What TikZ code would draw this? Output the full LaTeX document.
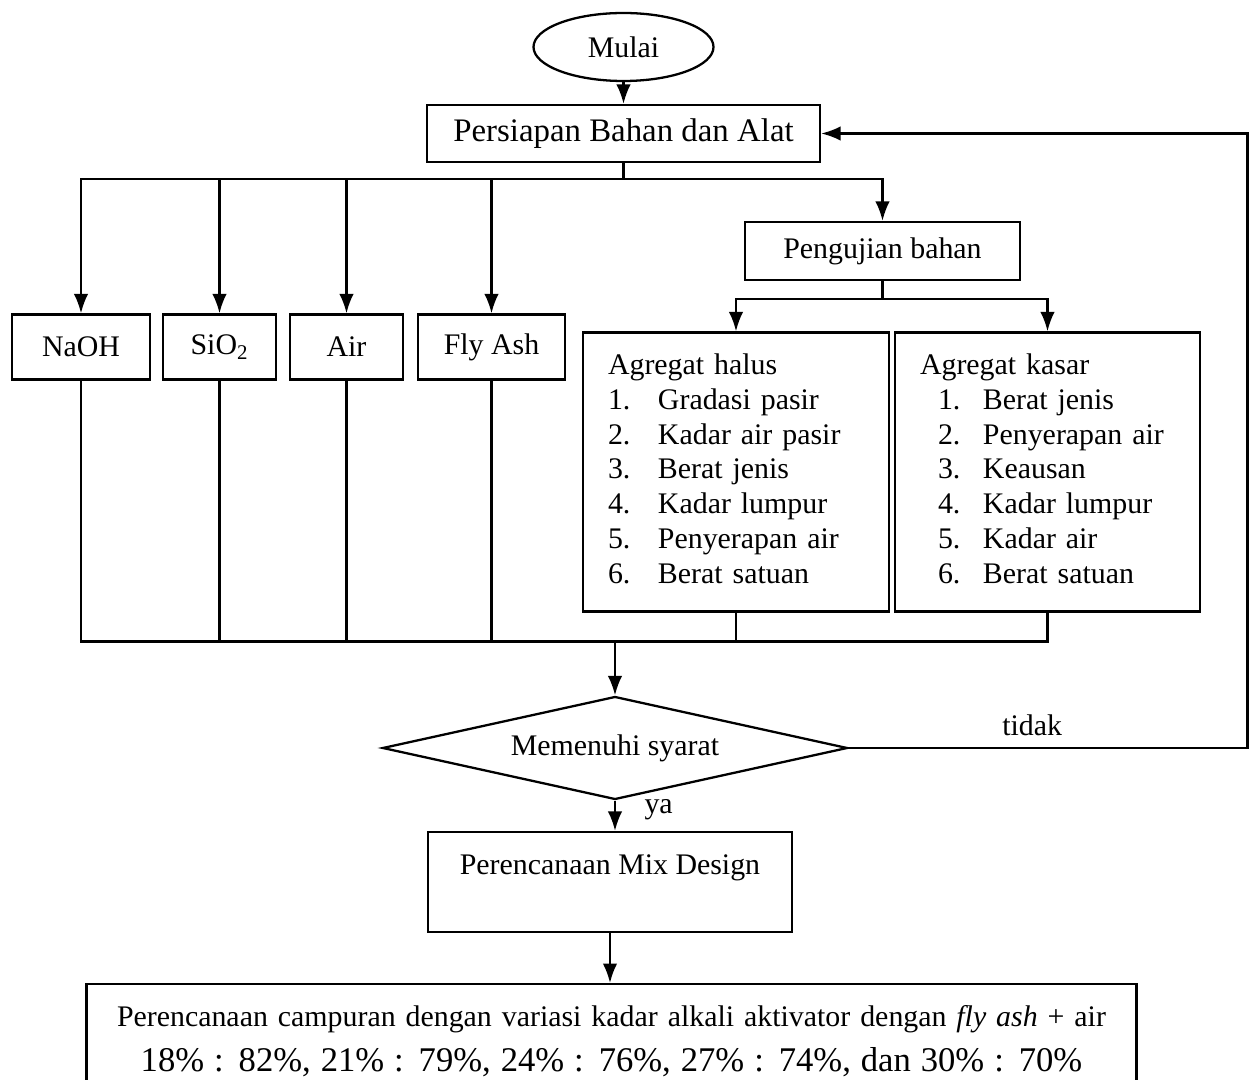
\documentclass[tikz,border=0pt]{standalone}
\usepackage{fontspec}
\setmainfont{Liberation Serif}
\usetikzlibrary{arrows.meta,positioning,shapes.geometric,calc}
\tikzset{
    box/.style={
        draw,line width=1.3pt,rectangle,align=center,inner sep=2pt
    },
    listbox/.style={
        draw,line width=1.3pt,rectangle,align=left,inner xsep=0.5cm,
        text width=#1,minimum height=5.58cm
    },
    arrow/.style={
        -{Latex[length=3.9mm,width=2.9mm]},line width=1.3pt
    },
    link/.style={line width=1.3pt}
}

\begin{document}
\begin{tikzpicture}[font=\fontsize{17}{19.9}\selectfont]
\useasboundingbox (0,0) rectangle (25.02,-21.6);

\node[draw,ellipse,line width=1.3pt,minimum width=3.6cm,minimum height=1.36cm]
(mulai) at (12.47,-0.94) {Mulai};

\node[box,minimum width=7.86cm,minimum height=1.14cm,font=\fontsize{18.7}{21}\selectfont]
(siap) at (12.47,-2.67) {Persiapan Bahan dan Alat};

\node[box,minimum width=5.5cm,minimum height=1.16cm]
(uji) at (17.65,-5.02) {Pengujian bahan};

% bahan
\node[box,minimum width=2.76cm,minimum height=1.3cm](naoh) at (1.62,-6.94) {NaOH};
\node[box,minimum width=2.26cm,minimum height=1.3cm](sio) at (4.39,-6.94) {SiO\textsubscript{2}};
\node[box,minimum width=2.26cm,minimum height=1.3cm](air) at (6.93,-6.94) {Air};
\node[box,minimum width=2.94cm,minimum height=1.3cm](fly) at (9.83,-6.94) {Fly Ash};

% agregat
\node[listbox=5.12cm](halus) at (14.72,-9.44)
{\begin{tabular}{@{}p{1cm}@{}l@{}}
\multicolumn{2}{@{}l}{Agregat halus}\\
1. & Gradasi pasir\\
2. & Kadar air pasir\\
3. & Berat jenis\\
4. & Kadar lumpur\\
5. & Penyerapan air\\
6. & Berat satuan
\end{tabular}};

\node[listbox=5.1cm](kasar) at (20.95,-9.44)
{\begin{tabular}{@{\hspace{0.36cm}}p{0.9cm}@{}l@{}}
\multicolumn{2}{@{}l}{Agregat kasar}\\
1. & Berat jenis\\
2. & Penyerapan air\\
3. & Keausan\\
4. & Kadar lumpur\\
5. & Kadar air\\
6. & Berat satuan
\end{tabular}};

\node[draw,diamond,aspect=4.5,line width=1.3pt,minimum width=9.3cm,
minimum height=2.06cm,inner sep=1pt]
(cek) at (12.3,-14.96) {Memenuhi syarat};

\node[box,minimum width=7.28cm,minimum height=2cm]
(mix) at (12.2,-17.64) {Perencanaan Mix Design\\\mbox{}};

\node[box,anchor=north,text width=20.2cm,inner xsep=0.4cm,inner ysep=0.43cm]
(akhir) at (12.23,-19.66)
{Perencanaan campuran dengan variasi kadar alkali aktivator dengan \textit{fly ash} + air\par
{\fontsize{19.7}{25.3}\selectfont 18\% : 82\%, 21\% : 79\%, 24\% : 76\%, 27\% : 74\%, dan 30\% : 70\%\par}};

% connectors
\draw[arrow](mulai)--(siap);

\coordinate (bagi) at ($(siap.south)+(0,-0.32)$);
\draw[link](siap)--(bagi);
\foreach \n in {naoh,sio,air,fly,uji}
    \draw[arrow](bagi)-|(\n);

\coordinate (bagi2) at ($(uji.south)+(0,-0.36)$);
\draw[link](uji)--(bagi2);
\foreach \n in {halus,kasar}
    \draw[arrow](bagi2)-|(\n);

\coordinate (gabung) at ($(cek.north)+(0,1.08)$);
\foreach \n in {naoh,sio,air,fly,halus,kasar}
    \draw[link](\n)|-(gabung);
\draw[arrow](gabung)--(cek);

\coordinate (balik) at (24.95,0);
\draw[arrow](cek.east)--node[above=3pt,pos=0.46]{tidak}(cek.east-|balik)|-(siap.east);

\draw[arrow](cek.south)--node[right=0.45cm,pos=0.3]{ya}(cek.south|-mix.north);
\draw[arrow](mix.south)--(mix.south|-akhir.north);

\end{tikzpicture}
\end{document}
